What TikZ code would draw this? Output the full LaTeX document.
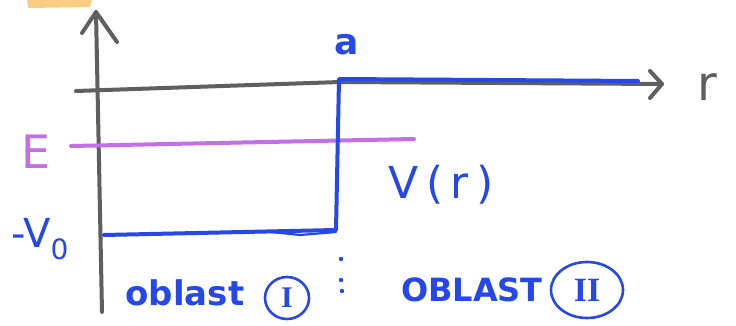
\documentclass[tikz,border=0pt]{standalone}
\usepackage{fontspec}
\setmainfont{DejaVu Sans}
\newfontfamily\romfont{Liberation Serif}
\usetikzlibrary{shapes.geometric}
\definecolor{penblue}{RGB}{38,72,232}
\definecolor{penpurple}{RGB}{196,110,232}
\definecolor{pengray}{RGB}{95,95,95}
\definecolor{penorange}{RGB}{250,205,130}
\tikzset{
  axis/.style={draw=pengray,line width=4pt,line cap=round,line join=round},
  well/.style={draw=penblue,line width=4pt,line cap=round,line join=round},
  level/.style={draw=penpurple,line width=4pt,line cap=round},
  bluelbl/.style={text=penblue,inner sep=0pt,font=\bfseries\fontsize{32}{36}\selectfont},
  graylbl/.style={text=pengray,inner sep=0pt,font=\fontsize{48}{52}\selectfont},
  purplelbl/.style={text=penpurple,inner sep=0pt,font=\fontsize{46}{50}\selectfont},
  ringed/.style={draw=penblue,line width=2.6pt,ellipse,inner sep=0pt,text=penblue}
}
\begin{document}
\begin{tikzpicture}[x=1pt,y=-1pt]
\useasboundingbox (0,0) rectangle (736,326);
\fill[white] (0,0) rectangle (736,326);
% orange smudge
\fill[penorange] (27,0) -- (92,0) -- (90,7) -- (28,8) -- cycle;
% coordinates
\coordinate (ybot) at (102,312);
\coordinate (ytop) at (96,12);
\coordinate (xl) at (76,91);
\coordinate (xm) at (340,82);
\coordinate (xr) at (662,84);
\coordinate (wtl) at (339,79);
\coordinate (wbr) at (336,230);
\coordinate (wbl) at (104,235);
\coordinate (wr) at (638,81);
\coordinate (el) at (71,146);
\coordinate (er) at (414,139);
% axes
\draw[axis] (ybot) -- (ytop);
\draw[axis] (82,33) -- (ytop) -- (117,42);
\draw[axis] (xl) -- (xm) -- (xr);
\draw[axis] (650,71) -- (xr) -- (650,98);
% energy level
\draw[level] (el) -- (er);
% potential well
\draw[well] (wbl) -- (wbr) -- (wtl) -- (wr);
\draw[well,line width=2.2pt] (262,231) -- (300,235) -- (336,232);
% dots
\fill[penblue] (341,259) circle (2.2);
\fill[penblue] (341,280) circle (2.2);
\fill[penblue] (342,291) circle (2.2);
% labels
\node[graylbl] (rlbl) at (707,87) {r};
\node[bluelbl,font=\bfseries\fontsize{36}{40}\selectfont] (albl) at (347,45) {a};
\node[purplelbl] (Elbl) at (36,152) {E};
\node[bluelbl,font=\fontsize{44}{48}\selectfont] (Vlbl) at (441,185) {V\,(\,r\,)};
\node[bluelbl,font=\fontsize{40}{44}\selectfont] (V0lbl) at (40,239) {-V\textsubscript{0}};
\node[bluelbl,font=\bfseries\fontsize{34}{38}\selectfont] (o1) at (185,293) {oblast};
\node[ringed,minimum width=44pt,minimum height=42pt,font=\romfont\bfseries\fontsize{30}{34}\selectfont] (r1) at (287,298) {I};
\node[bluelbl,font=\bfseries\fontsize{32}{38}\selectfont] (o2) at (472,290) {OBLAST};
\node[ringed,minimum width=72pt,minimum height=56pt,font=\romfont\bfseries\fontsize{34}{38}\selectfont] (r2) at (587,290) {II};
\end{tikzpicture}
\end{document}
